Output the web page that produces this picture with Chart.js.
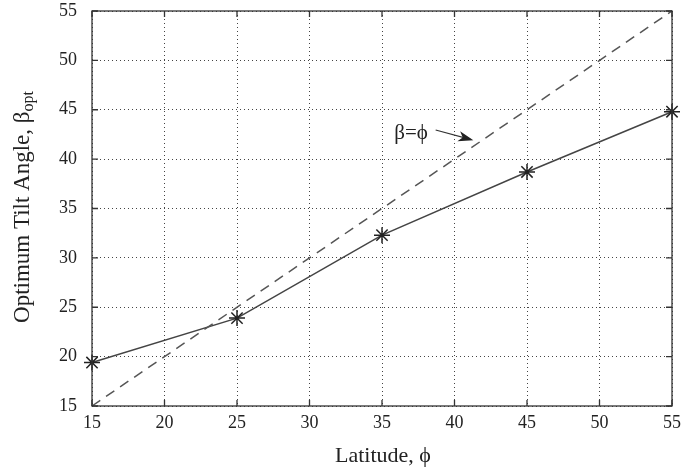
<!DOCTYPE html>
<html><head><meta charset="utf-8">
<script src="https://cdn.jsdelivr.net/npm/chart.js@4"></script>
<style>html,body{margin:0;padding:0;background:#fff}#wrap{width:681px;height:471px}</style>
</head><body><div id="wrap"><canvas id="c" width="681" height="471"></canvas></div>
<script>
const latitudes = [15, 25, 35, 45, 55];
const betaOpt = [19.4, 23.9, 32.3, 38.7, 44.8];
const refLatitudes = [15, 55];
const refBeta = [15, 55];
const xTicks = [15, 20, 25, 30, 35, 40, 45, 50, 55];
const yTicks = [15, 20, 25, 30, 35, 40, 45, 50, 55];
const xTitle = 'Latitude, \u03d5';
const yTitleMain = 'Optimum Tilt Angle, \u03b2';
const yTitleSub = 'opt';
const annotationText = '\u03b2=\u03d5';

const FONT = '"Liberation Serif", "DejaVu Serif", serif';
const INK = '#333';

const framePlugin = {
  id: 'frame',
  afterDraw(chart) {
    const ctx = chart.ctx, a = chart.chartArea;
    const xs = chart.scales.x, ys = chart.scales.y;
    ctx.save();
    ctx.strokeStyle = INK; ctx.lineWidth = 1.3; ctx.setLineDash([]);
    ctx.strokeRect(a.left, a.top, a.right - a.left, a.bottom - a.top);
    ctx.beginPath();
    xTicks.forEach(v => { const p = xs.getPixelForValue(v);
      ctx.moveTo(p, a.bottom); ctx.lineTo(p, a.bottom - 6);
      ctx.moveTo(p, a.top); ctx.lineTo(p, a.top + 6); });
    yTicks.forEach(v => { const p = ys.getPixelForValue(v);
      ctx.moveTo(a.left, p); ctx.lineTo(a.left + 6, p);
      ctx.moveTo(a.right, p); ctx.lineTo(a.right - 6, p); });
    ctx.stroke();
    // titles
    ctx.fillStyle = '#222';
    ctx.font = '22px ' + FONT;
    ctx.textAlign = 'center'; ctx.textBaseline = 'alphabetic';
    ctx.fillText(xTitle, (a.left + a.right) / 2 + 1, 462);
    ctx.save();
    ctx.translate(29, 207);
    ctx.rotate(-Math.PI / 2);
    ctx.font = '23px ' + FONT;
    const wMain = ctx.measureText(yTitleMain).width;
    ctx.font = '16px ' + FONT;
    const wSub = ctx.measureText(yTitleSub).width;
    const total = wMain + wSub;
    ctx.textAlign = 'left';
    ctx.font = '23px ' + FONT;
    ctx.fillText(yTitleMain, -total / 2, 0);
    ctx.font = '16px ' + FONT;
    ctx.fillText(yTitleSub, -total / 2 + wMain, 4);
    ctx.restore();
    // annotation
    const tx = xs.getPixelForValue(35.85), ty = ys.getPixelForValue(42.6);
    ctx.font = '21px ' + FONT;
    ctx.textAlign = 'left'; ctx.textBaseline = 'middle';
    ctx.fillText(annotationText, tx, ty);
    const x0 = xs.getPixelForValue(38.7), y0 = ys.getPixelForValue(42.95);
    const x1 = xs.getPixelForValue(41.3), y1 = ys.getPixelForValue(41.9);
    ctx.beginPath(); ctx.moveTo(x0, y0); ctx.lineTo(x1 - 3, y1 - 1);
    ctx.lineWidth = 1.1; ctx.strokeStyle = INK; ctx.stroke();
    const ang = Math.atan2(y1 - y0, x1 - x0);
    ctx.beginPath();
    ctx.moveTo(x1, y1);
    ctx.lineTo(x1 - 16 * Math.cos(ang - 0.33), y1 - 16 * Math.sin(ang - 0.33));
    ctx.lineTo(x1 - 11 * Math.cos(ang), y1 - 11 * Math.sin(ang));
    ctx.lineTo(x1 - 16 * Math.cos(ang + 0.33), y1 - 16 * Math.sin(ang + 0.33));
    ctx.closePath(); ctx.fillStyle = '#222'; ctx.fill();
    ctx.restore();
  }
};

new Chart(document.getElementById('c'), {
  type: 'line',
  data: {
    datasets: [
      { data: refLatitudes.map((x, i) => ({ x, y: refBeta[i] })),
        borderColor: '#555', borderWidth: 1.5, borderDash: [10, 7], pointRadius: 0, fill: false, clip: false },
      { data: latitudes.map((x, i) => ({ x, y: betaOpt[i] })),
        borderColor: '#444', borderWidth: 1.5, pointStyle: 'star', pointRadius: 8,
        pointBorderColor: '#222', pointBorderWidth: 1.5, pointBackgroundColor: '#222', fill: false, clip: false }
    ]
  },
  options: {
    responsive: false, animation: false,
    layout: { autoPadding: false, padding: { left: 0, top: 11, right: 9, bottom: 0 } },
    plugins: { legend: { display: false }, tooltip: { enabled: false } },
    scales: {
      x: { type: 'linear', min: 15, max: 55,
        afterBuildTicks: s => { s.ticks = xTicks.map(v => ({ value: v })); },
        afterFit: s => { s.height = 65; s.paddingLeft = 0; s.paddingRight = 0; s.paddingTop = 0; s.paddingBottom = 0; },
        border: { display: false, dash: [1, 3] },
        grid: { color: '#444', lineWidth: 1, drawTicks: false },
        ticks: { color: '#222', font: { family: FONT, size: 18 }, padding: 6, maxRotation: 0 } },
      y: { min: 15, max: 55,
        afterBuildTicks: s => { s.ticks = yTicks.map(v => ({ value: v })); },
        afterFit: s => { s.width = 92; s.paddingLeft = 0; s.paddingRight = 0; s.paddingTop = 0; s.paddingBottom = 0; },
        border: { display: false, dash: [1, 3] },
        grid: { color: '#444', lineWidth: 1, drawTicks: false },
        ticks: { color: '#222', font: { family: FONT, size: 18 }, padding: 15 } }
    }
  },
  plugins: [framePlugin]
});
</script>
</body></html>
